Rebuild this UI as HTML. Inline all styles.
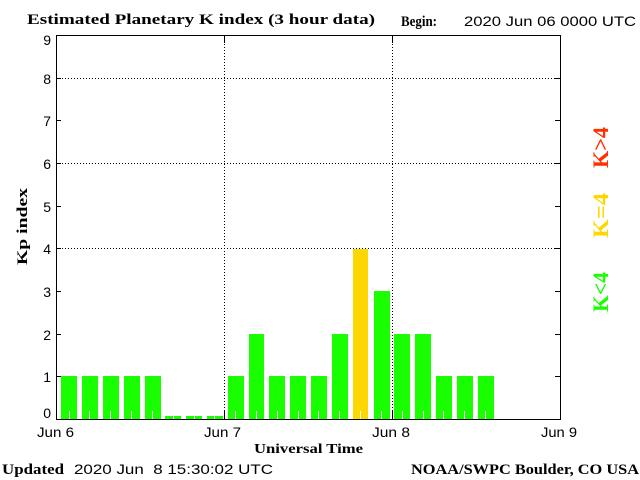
<!DOCTYPE html>
<html><head><meta charset="utf-8"><style>html,body{margin:0;padding:0;background:#fff;}svg{display:block;}</style></head>
<body>
<svg width="640" height="480" viewBox="0 0 640 480" xmlns="http://www.w3.org/2000/svg">
<rect x="0" y="0" width="640" height="480" fill="#fff"/>
<g font-family="'Liberation Serif', serif" font-weight="bold" fill="#000">
<text x="27" y="24" font-size="15" textLength="348" lengthAdjust="spacingAndGlyphs">Estimated Planetary K index (3 hour data)</text>
<text x="401" y="26" font-size="15" textLength="36" lengthAdjust="spacingAndGlyphs">Begin:</text>
<text x="254" y="453" font-size="14" textLength="109" lengthAdjust="spacingAndGlyphs">Universal Time</text>
<text x="2" y="474" font-size="15" textLength="62" lengthAdjust="spacingAndGlyphs">Updated</text>
<text x="411" y="474" font-size="15" textLength="228" lengthAdjust="spacingAndGlyphs">NOAA/SWPC Boulder, CO USA</text>
<text transform="translate(27,265) rotate(-90)" x="0" y="0" font-size="15" textLength="77" lengthAdjust="spacingAndGlyphs">Kp index</text>
</g>
<g font-family="'Liberation Sans', sans-serif" fill="#000" font-size="14">
<text x="464" y="26" textLength="172" lengthAdjust="spacingAndGlyphs">2020 Jun 06 0000 UTC</text>
<text x="74" y="474" textLength="199" lengthAdjust="spacingAndGlyphs" xml:space="preserve">2020 Jun  8 15:30:02 UTC</text>
<text x="37" y="437" textLength="37" lengthAdjust="spacingAndGlyphs">Jun 6</text>
<text x="204" y="437" textLength="37" lengthAdjust="spacingAndGlyphs">Jun 7</text>
<text x="372" y="437" textLength="38" lengthAdjust="spacingAndGlyphs">Jun 8</text>
<text x="541" y="437" textLength="36" lengthAdjust="spacingAndGlyphs">Jun 9</text>
<g text-anchor="end">
<text x="51" y="45">9</text>
<text x="51" y="84">8</text>
<text x="51" y="126">7</text>
<text x="51" y="169">6</text>
<text x="51" y="212">5</text>
<text x="51" y="254">4</text>
<text x="51" y="297">3</text>
<text x="51" y="340">2</text>
<text x="51" y="382">1</text>
<text x="51" y="418">0</text>
</g>
</g>
<g font-family="'Liberation Serif', serif" font-size="22" font-weight="bold">
<text transform="translate(608,168) rotate(-90)" fill="#ff3000" textLength="41" lengthAdjust="spacingAndGlyphs">K&gt;4</text>
<text transform="translate(608,238) rotate(-90)" fill="#ffd700" textLength="45" lengthAdjust="spacingAndGlyphs">K=4</text>
<text transform="translate(608,312) rotate(-90)" fill="#19ff00" textLength="40" lengthAdjust="spacingAndGlyphs">K&lt;4</text>
</g>
<g shape-rendering="crispEdges">
<g stroke="#000" stroke-width="1" stroke-dasharray="1 2" fill="none">
<line x1="62" y1="78.5" x2="555" y2="78.5"/>
<line x1="62" y1="163.5" x2="555" y2="163.5"/>
<line x1="62" y1="248.5" x2="555" y2="248.5"/>
<line x1="224.5" y1="44" x2="224.5" y2="411"/>
<line x1="392.5" y1="44" x2="392.5" y2="411"/>
</g>
<g fill="#19ff00">
<rect x="61" y="376" width="16" height="43"/>
<rect x="82" y="376" width="16" height="43"/>
<rect x="103" y="376" width="16" height="43"/>
<rect x="124" y="376" width="16" height="43"/>
<rect x="145" y="376" width="16" height="43"/>
<rect x="165" y="416" width="16" height="3"/>
<rect x="186" y="416" width="16" height="3"/>
<rect x="207" y="416" width="16" height="3"/>
<rect x="228" y="376" width="16" height="43"/>
<rect x="249" y="334" width="15" height="85"/>
<rect x="269" y="376" width="16" height="43"/>
<rect x="290" y="376" width="16" height="43"/>
<rect x="311" y="376" width="16" height="43"/>
<rect x="332" y="334" width="16" height="85"/>
<rect x="374" y="291" width="16" height="128"/>
<rect x="394" y="334" width="16" height="85"/>
<rect x="415" y="334" width="16" height="85"/>
<rect x="436" y="376" width="16" height="43"/>
<rect x="457" y="376" width="16" height="43"/>
<rect x="478" y="376" width="16" height="43"/>
</g>
<rect x="353" y="249" width="15" height="170" fill="#ffd700"/>
<g stroke="#fff" stroke-width="1">
<line x1="69.5" y1="411" x2="69.5" y2="419"/>
<line x1="89.5" y1="411" x2="89.5" y2="419"/>
<line x1="110.5" y1="411" x2="110.5" y2="419"/>
<line x1="131.5" y1="411" x2="131.5" y2="419"/>
<line x1="152.5" y1="411" x2="152.5" y2="419"/>
<line x1="173.5" y1="411" x2="173.5" y2="419"/>
<line x1="194.5" y1="411" x2="194.5" y2="419"/>
<line x1="214.5" y1="411" x2="214.5" y2="419"/>
<line x1="235.5" y1="411" x2="235.5" y2="419"/>
<line x1="256.5" y1="411" x2="256.5" y2="419"/>
<line x1="277.5" y1="411" x2="277.5" y2="419"/>
<line x1="298.5" y1="411" x2="298.5" y2="419"/>
<line x1="318.5" y1="411" x2="318.5" y2="419"/>
<line x1="339.5" y1="411" x2="339.5" y2="419"/>
<line x1="360.5" y1="411" x2="360.5" y2="419"/>
<line x1="381.5" y1="411" x2="381.5" y2="419"/>
<line x1="402.5" y1="411" x2="402.5" y2="419"/>
<line x1="423.5" y1="411" x2="423.5" y2="419"/>
<line x1="443.5" y1="411" x2="443.5" y2="419"/>
<line x1="464.5" y1="411" x2="464.5" y2="419"/>
<line x1="485.5" y1="411" x2="485.5" y2="419"/>
</g>
<g stroke="#000" stroke-width="1" fill="none">
<rect x="56.5" y="35.5" width="504" height="384"/>
<line x1="224.5" y1="35" x2="224.5" y2="43"/>
<line x1="224.5" y1="411" x2="224.5" y2="419"/>
<line x1="392.5" y1="35" x2="392.5" y2="43"/>
<line x1="392.5" y1="411" x2="392.5" y2="419"/>
<line x1="56" y1="78.5" x2="61" y2="78.5"/>
<line x1="56" y1="120.5" x2="61" y2="120.5"/>
<line x1="56" y1="163.5" x2="61" y2="163.5"/>
<line x1="56" y1="206.5" x2="61" y2="206.5"/>
<line x1="56" y1="248.5" x2="61" y2="248.5"/>
<line x1="56" y1="291.5" x2="61" y2="291.5"/>
<line x1="56" y1="334.5" x2="61" y2="334.5"/>
<line x1="56" y1="376.5" x2="61" y2="376.5"/>
<line x1="555" y1="78.5" x2="560" y2="78.5"/>
<line x1="555" y1="120.5" x2="560" y2="120.5"/>
<line x1="555" y1="163.5" x2="560" y2="163.5"/>
<line x1="555" y1="206.5" x2="560" y2="206.5"/>
<line x1="555" y1="248.5" x2="560" y2="248.5"/>
<line x1="555" y1="291.5" x2="560" y2="291.5"/>
<line x1="555" y1="334.5" x2="560" y2="334.5"/>
<line x1="555" y1="376.5" x2="560" y2="376.5"/>
</g>
</g>
</svg>
</body></html>
